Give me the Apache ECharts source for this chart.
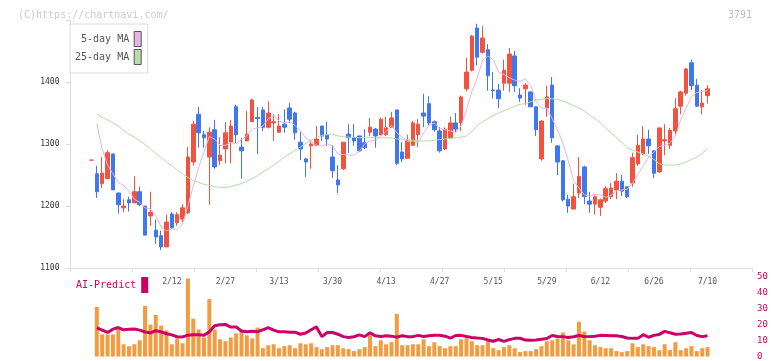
<!DOCTYPE html>
<html>
<head>
<meta charset="utf-8">
<script src="https://cdn.jsdelivr.net/npm/echarts@6/dist/echarts.min.js"></script>
<style>
	html, body { margin: 0; padding: 0; background: #fff; }
	#chart { width: 772px; height: 361px; }
</style>
</head>
<body>
<div id="chart"></div>
<script>
	// trading days shown on the chart
	var dates = [
		'1/21', '1/22', '1/23', '1/26', '1/27', '1/28', '1/29', '1/30', '2/2', '2/3',
		'2/4', '2/5', '2/6', '2/9', '2/10', '2/12', '2/13', '2/16', '2/17', '2/18',
		'2/19', '2/20', '2/24', '2/25', '2/26', '2/27', '3/2', '3/3', '3/4', '3/5',
		'3/6', '3/9', '3/10', '3/11', '3/12', '3/13', '3/16', '3/17', '3/18', '3/19',
		'3/23', '3/24', '3/25', '3/26', '3/27', '3/30', '3/31', '4/1', '4/2', '4/3',
		'4/6', '4/7', '4/8', '4/9', '4/10', '4/13', '4/14', '4/15', '4/16', '4/17',
		'4/20', '4/21', '4/22', '4/23', '4/24', '4/27', '4/28', '4/30', '5/1', '5/7',
		'5/8', '5/11', '5/12', '5/13', '5/14', '5/15', '5/18', '5/19', '5/20', '5/21',
		'5/22', '5/25', '5/26', '5/27', '5/28', '5/29', '6/1', '6/2', '6/3', '6/4',
		'6/5', '6/8', '6/9', '6/10', '6/11', '6/12', '6/15', '6/16', '6/17', '6/18',
		'6/19', '6/22', '6/23', '6/24', '6/25', '6/26', '6/29', '6/30', '7/1', '7/2',
		'7/3', '7/6', '7/7', '7/8', '7/9', '7/10'
	];
	var labelDates = ['2/12', '2/27', '3/13', '3/30', '4/13', '4/27', '5/15', '5/29', '6/12', '6/26', '7/10'];

	// [open, close, low, high]
	var candles = [
		[1274, 1274, 1274, 1274], [1252, 1223, 1213, 1265], [1236, 1253, 1229, 1279], [1244, 1286, 1244, 1290],
		[1284, 1226, 1226, 1284], [1221, 1202, 1188, 1221], [1197, 1200, 1190, 1211], [1210, 1205, 1191, 1215],
		[1205, 1223, 1205, 1248], [1223, 1202, 1200, 1231], [1200, 1153, 1153, 1200], [1184, 1190, 1168, 1223],
		[1161, 1150, 1139, 1178], [1152, 1134, 1129, 1160], [1134, 1174, 1134, 1186], [1187, 1165, 1163, 1190],
		[1173, 1186, 1168, 1190], [1179, 1197, 1174, 1203], [1189, 1279, 1187, 1295], [1271, 1332, 1265, 1337],
		[1348, 1318, 1294, 1360], [1315, 1310, 1294, 1321], [1279, 1319, 1202, 1327], [1323, 1263, 1260, 1339],
		[1273, 1282, 1266, 1311], [1292, 1318, 1269, 1335], [1303, 1329, 1269, 1339], [1360, 1315, 1300, 1363],
		[1295, 1289, 1244, 1310], [1305, 1316, 1305, 1353], [1336, 1371, 1336, 1373], [1343, 1341, 1284, 1360],
		[1355, 1327, 1321, 1360], [1327, 1350, 1325, 1369], [1334, 1336, 1305, 1348], [1319, 1329, 1319, 1348],
		[1332, 1327, 1318, 1356], [1358, 1340, 1334, 1366], [1350, 1318, 1307, 1352], [1303, 1292, 1274, 1319],
		[1276, 1271, 1247, 1277], [1297, 1300, 1260, 1307], [1298, 1308, 1298, 1329], [1329, 1313, 1305, 1329],
		[1315, 1308, 1297, 1336], [1279, 1257, 1245, 1298], [1242, 1234, 1221, 1266], [1260, 1303, 1258, 1303],
		[1316, 1310, 1286, 1332], [1310, 1305, 1297, 1332], [1313, 1289, 1287, 1313], [1302, 1294, 1292, 1324],
		[1319, 1327, 1313, 1342], [1324, 1313, 1294, 1326], [1315, 1340, 1314, 1342], [1315, 1326, 1313, 1344],
		[1327, 1342, 1327, 1352], [1355, 1269, 1266, 1355], [1287, 1276, 1271, 1303], [1277, 1305, 1277, 1315],
		[1298, 1334, 1298, 1337], [1315, 1332, 1295, 1340], [1350, 1345, 1327, 1381], [1365, 1334, 1330, 1377],
		[1336, 1323, 1320, 1338], [1321, 1289, 1286, 1327], [1292, 1324, 1290, 1327], [1310, 1334, 1308, 1344],
		[1334, 1324, 1319, 1350], [1334, 1376, 1321, 1378], [1389, 1416, 1385, 1439], [1419, 1474, 1417, 1476],
		[1487, 1440, 1427, 1494], [1448, 1471, 1446, 1490], [1452, 1410, 1386, 1461], [1387, 1386, 1373, 1416],
		[1387, 1373, 1358, 1397], [1398, 1419, 1386, 1436], [1398, 1445, 1384, 1455], [1442, 1394, 1384, 1450],
		[1379, 1374, 1368, 1390], [1389, 1395, 1363, 1398], [1384, 1360, 1360, 1384], [1360, 1323, 1313, 1360],
		[1276, 1337, 1273, 1338], [1358, 1376, 1344, 1394], [1395, 1310, 1302, 1408], [1297, 1271, 1250, 1297],
		[1273, 1210, 1207, 1273], [1211, 1200, 1189, 1218], [1195, 1215, 1195, 1236], [1221, 1248, 1213, 1279],
		[1263, 1215, 1203, 1265], [1208, 1203, 1189, 1223], [1203, 1215, 1186, 1217], [1198, 1210, 1184, 1212],
		[1208, 1228, 1205, 1232], [1215, 1229, 1211, 1237], [1226, 1240, 1211, 1253], [1240, 1224, 1216, 1250],
		[1231, 1215, 1213, 1231], [1237, 1278, 1231, 1286], [1268, 1298, 1265, 1315], [1284, 1308, 1282, 1329],
		[1308, 1297, 1284, 1323], [1289, 1253, 1245, 1290], [1255, 1326, 1254, 1326], [1305, 1307, 1282, 1332],
		[1298, 1322, 1292, 1326], [1321, 1357, 1315, 1374], [1361, 1384, 1348, 1386], [1382, 1421, 1378, 1423],
		[1431, 1394, 1387, 1436], [1395, 1361, 1360, 1405], [1360, 1366, 1348, 1387], [1378, 1389, 1365, 1395]
	];

	var ma5 = [
		'-', 1333, 1292, 1266, 1252, 1238, 1233, 1224, 1211, 1206,
		1197, 1195, 1184, 1166, 1160, 1163, 1162, 1171, 1200, 1232,
		1262, 1287, 1312, 1308, 1298, 1298, 1302, 1301, 1307, 1313,
		1324, 1326, 1329, 1341, 1345, 1337, 1334, 1336, 1330, 1321,
		1310, 1304, 1298, 1297, 1300, 1297, 1284, 1283, 1282, 1282,
		1288, 1300, 1305, 1306, 1313, 1320, 1330, 1318, 1311, 1304,
		1305, 1303, 1318, 1330, 1334, 1325, 1323, 1321, 1319, 1329,
		1355, 1385, 1406, 1435, 1442, 1436, 1416, 1412, 1407, 1403,
		1401, 1405, 1394, 1369, 1358, 1358, 1341, 1323, 1301, 1273,
		1241, 1229, 1218, 1216, 1219, 1218, 1214, 1217, 1224, 1226,
		1227, 1237, 1251, 1265, 1279, 1287, 1296, 1298, 1301, 1313,
		1339, 1358, 1376, 1383, 1385, 1386
	];

	var ma25 = [
		'-', 1348, 1343, 1339, 1334, 1329, 1322, 1316, 1311, 1305,
		1299, 1292, 1285, 1278, 1271, 1265, 1258, 1252, 1246, 1241,
		1238, 1235, 1233, 1231, 1230, 1230, 1231, 1234, 1236, 1240,
		1244, 1249, 1255, 1260, 1266, 1272, 1279, 1284, 1290, 1295,
		1301, 1306, 1311, 1314, 1315, 1316, 1313, 1312, 1311, 1311,
		1310, 1311, 1311, 1310, 1310, 1310, 1310, 1308, 1308, 1307,
		1306, 1305, 1305, 1305, 1306, 1307, 1308, 1309, 1310, 1311,
		1313, 1320, 1330, 1336, 1341, 1346, 1350, 1354, 1357, 1361,
		1364, 1365, 1368, 1371, 1372, 1373, 1373, 1372, 1369, 1366,
		1362, 1358, 1353, 1346, 1341, 1334, 1326, 1318, 1310, 1303,
		1294, 1290, 1287, 1284, 1280, 1275, 1268, 1266, 1266, 1266,
		1268, 1271, 1275, 1279, 1285, 1292
	];

	var volume = [
		'-', 31.2, 13.9, 13.9, 13.9, 17.6, 7.7, 6.5, 7.7, 10.2,
		31.8, 20.1, 26.2, 19.4, 16.4, 7.7, 11.4, 8.3, 49.1, 23.8,
		17.0, 12.0, 36.1, 17.0, 10.8, 9.6, 12.0, 14.5, 15.7, 13.3,
		11.4, 18.2, 5.2, 7.1, 7.7, 5.2, 6.5, 7.1, 5.2, 8.3,
		7.7, 8.3, 5.9, 4.6, 5.9, 7.1, 7.1, 5.2, 4.6, 3.4,
		4.6, 5.9, 13.3, 6.5, 10.2, 7.7, 9.0, 26.9, 7.1, 7.1,
		7.7, 7.7, 10.8, 6.5, 9.0, 6.5, 5.2, 6.5, 6.5, 10.8,
		11.4, 9.6, 7.1, 7.1, 9.6, 5.2, 4.0, 5.9, 7.1, 5.2,
		2.8, 3.4, 3.4, 4.6, 6.5, 9.6, 10.2, 11.4, 15.1, 10.2,
		7.7, 21.9, 15.7, 10.2, 7.1, 5.9, 5.2, 5.2, 3.4, 2.8,
		3.4, 8.3, 5.9, 7.7, 6.5, 5.9, 4.0, 7.7, 4.0, 9.0,
		4.0, 5.2, 6.5, 3.4, 5.2, 5.9
	];

	var aiPredict = [
		'-', 18.0, 16.6, 15.1, 17.2, 18.2, 16.8, 17.2, 17.3, 16.6,
		15.4, 14.9, 16.2, 15.5, 14.3, 13.6, 12.4, 12.3, 13.4, 13.7,
		13.7, 13.4, 15.5, 19.4, 20.0, 20.2, 18.5, 18.6, 16.0, 15.6,
		15.9, 15.6, 16.8, 18.2, 16.6, 15.5, 15.5, 15.2, 15.3, 14.0,
		14.8, 16.8, 18.6, 12.5, 15.1, 15.1, 14.0, 12.5, 12.0, 12.4,
		13.6, 12.5, 14.9, 13.0, 12.6, 13.1, 12.8, 12.2, 13.0, 12.5,
		12.5, 13.3, 12.6, 13.0, 13.3, 13.3, 12.8, 11.5, 13.2, 13.3,
		12.6, 12.0, 11.6, 11.4, 10.4, 9.6, 10.7, 9.5, 10.6, 11.4,
		11.5, 10.3, 10.2, 10.4, 10.8, 11.3, 13.2, 12.6, 12.5, 12.0,
		12.4, 13.2, 12.6, 12.5, 12.7, 13.3, 13.2, 13.1, 13.1, 12.6,
		11.6, 11.4, 11.4, 13.7, 12.1, 13.3, 13.9, 15.8, 14.9, 14.0,
		14.1, 14.6, 15.1, 13.2, 12.5, 13.1
	];

	var priceTicks = [1100, 1200, 1300, 1400];
	var volumeTicks = [0, 10, 20, 30, 40, 50];

	var mono = '"DejaVu Sans Mono", monospace';
	var upColor = '#f2533f';
	var downColor = '#3f77ee';
	var aiColor = '#cc0066';
	var frameColor = '#dddddd';

	var chart = echarts.init(document.getElementById('chart'), null, { renderer: 'canvas' });

	var option = {
		animation: false,
		backgroundColor: '#fff',
		title: [{
				text: '(C)https://chartnavi.com/',
				left: 13,
				top: 5,
				textStyle: { fontFamily: mono, fontSize: 10, fontWeight: 'normal', color: '#cccccc' }
			},
			{
				text: '3791',
				right: 15,
				top: 5,
				textStyle: { fontFamily: mono, fontSize: 10, fontWeight: 'normal', color: '#bbbbbb' }
			}
		],
		legend: [{
				data: ['5-day MA', '25-day MA'],
				orient: 'vertical',
				left: 70,
				top: 24,
				align: 'right',
				icon: 'rect',
				itemWidth: 7,
				itemHeight: 15,
				itemGap: 2,
				padding: [7, 6, 8, 5],
				backgroundColor: '#fff',
				borderColor: frameColor,
				borderWidth: 1,
				itemStyle: { borderColor: '#555', borderWidth: 1 },
				textStyle: { fontFamily: mono, fontSize: 10, color: '#555' },
				z: 10
			},
			{
				data: ['AI-Predict'],
				left: 76,
				top: 277,
				align: 'right',
				icon: 'rect',
				itemWidth: 7,
				itemHeight: 16,
				padding: 0,
				itemStyle: { borderWidth: 0 },
				textStyle: { fontFamily: mono, fontSize: 10, color: aiColor }
			}
		],
		grid: [
			// frame with axis lines and ticks
			{ left: 70.5, right: 20, top: 20, bottom: 93 },
			// candles
			{ left: 88.8, width: 621.4, top: 20, bottom: 93 },
			// volume + AI-Predict
			{ left: 88.8, width: 621.4, top: 277, bottom: 2.5 }
		],
		xAxis: [{
				type: 'value',
				gridIndex: 0,
				min: 0,
				max: 11,
				interval: 1,
				axisLine: { lineStyle: { color: frameColor } },
				axisTick: { length: 4, lineStyle: { color: frameColor } },
				axisLabel: { show: false },
				splitLine: { show: false }
			},
			{
				type: 'category',
				gridIndex: 1,
				data: dates,
				boundaryGap: true,
				axisLine: { show: false },
				axisTick: { show: false },
				axisLabel: {
					interval: function(idx, value) {
						return labelDates.indexOf(value) >= 0;
					},
					fontFamily: mono,
					fontSize: 8,
					color: '#555',
					margin: 10
				},
				splitLine: { show: false }
			},
			{
				type: 'category',
				gridIndex: 2,
				data: dates,
				boundaryGap: true,
				show: false
			}
		],
		yAxis: [{
				type: 'value',
				gridIndex: 0,
				min: priceTicks[0],
				max: 1500,
				interval: 100,
				axisLine: { show: true, lineStyle: { color: frameColor } },
				axisTick: { show: true, length: 5, lineStyle: { color: frameColor } },
				axisLabel: {
					formatter: function(v) {
						return priceTicks.indexOf(v) >= 0 ? String(v) : '';
					},
					fontFamily: mono,
					fontSize: 8,
					color: '#333',
					margin: 11
				},
				splitLine: { show: false }
			},
			{
				type: 'value',
				gridIndex: 1,
				min: priceTicks[0],
				max: 1500,
				show: false
			},
			{
				type: 'value',
				gridIndex: 2,
				position: 'right',
				offset: 41.8,
				min: volumeTicks[0],
				max: volumeTicks[volumeTicks.length - 1],
				interval: 10,
				axisLine: { show: false },
				axisTick: { show: false },
				axisLabel: { fontFamily: mono, fontSize: 9, color: aiColor, margin: 5 },
				splitLine: { show: false }
			}
		],
		series: [{
				name: 'kline',
				type: 'candlestick',
				xAxisIndex: 1,
				yAxisIndex: 1,
				data: candles,
				barWidth: 4,
				itemStyle: {
					color: upColor,
					color0: downColor,
					borderColor: upColor,
					borderColor0: downColor,
					borderWidth: 1
				}
			},
			{
				name: '5-day MA',
				type: 'line',
				xAxisIndex: 1,
				yAxisIndex: 1,
				data: ma5,
				showSymbol: false,
				itemStyle: { color: '#e8b3e8' },
				lineStyle: { color: '#e8b3e8', width: 1 }
			},
			{
				name: '25-day MA',
				type: 'line',
				xAxisIndex: 1,
				yAxisIndex: 1,
				data: ma25,
				showSymbol: false,
				itemStyle: { color: '#b5dca8' },
				lineStyle: { color: '#b5dca8', width: 1 }
			},
			{
				name: 'Volume',
				type: 'bar',
				xAxisIndex: 2,
				yAxisIndex: 2,
				data: volume,
				barWidth: 4,
				itemStyle: { color: '#f39b41' }
			},
			{
				name: 'AI-Predict',
				type: 'line',
				xAxisIndex: 2,
				yAxisIndex: 2,
				data: aiPredict,
				showSymbol: false,
				itemStyle: { color: aiColor },
				lineStyle: { color: aiColor, width: 3 }
			}
		]
	};
	chart.setOption(option);
</script>
</body>
</html>
